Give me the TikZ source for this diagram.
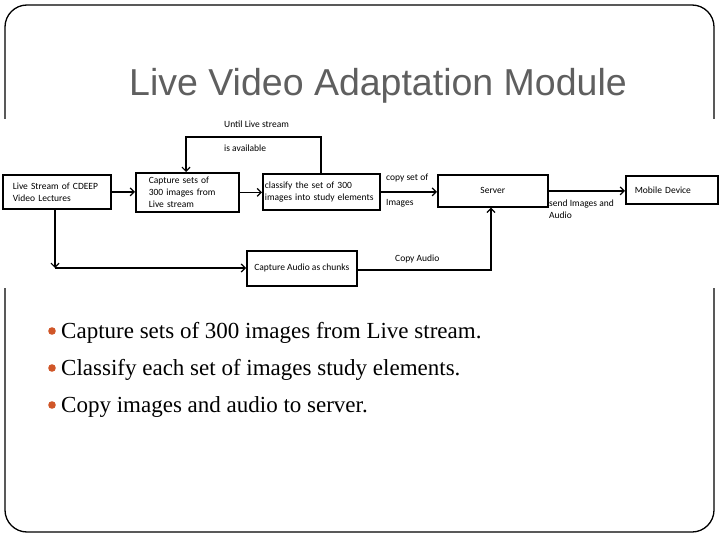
\documentclass[tikz,border=0pt]{standalone}
\usepackage{fontspec}
\setmainfont{Liberation Serif}
\newfontfamily\titlefont{Liberation Sans}
\newfontfamily\diafont{Carlito}
\usetikzlibrary{arrows.meta}
\definecolor{titlegray}{RGB}{95,95,95}
\definecolor{bulletc}{RGB}{208,86,40}
\begin{document}
\begin{tikzpicture}[x=1pt,y=-1pt,
  box/.style={draw, line width=1.7pt, align=left, inner ysep=0pt,
    font=\diafont\fontsize{9.5}{12}\selectfont, anchor=north west},
  conn/.style={line width=1.5pt, -{Straight Barb[length=4pt,width=8pt,line width=1.2pt]}},
  lbl/.style={font=\diafont\fontsize{9.5}{12}\selectfont, align=left, inner sep=0pt, anchor=west},
  bul/.style={font=\fontsize{23}{27}\selectfont, inner sep=0pt, anchor=base west}]
\useasboundingbox (0,0) rectangle (720,540);
% slide frame
\draw[line width=1.3pt, rounded corners=22pt] (5,5) rectangle (714,532);
\fill[white] (0,119) rectangle (720,288);
% title
\node[font=\titlefont\fontsize{37.5}{40}\selectfont, text=titlegray, anchor=base, inner sep=0pt] (title) at (378,96) {Live Video Adaptation Module};
% boxes
\node[box, inner xsep=10pt, text width=88pt, minimum height=34pt] (A) at (2,174) {Live Stream of CDEEP\\Video Lectures};
\node[box, inner xsep=13pt, text width=77pt, minimum height=39pt] (B) at (135,172) {Capture sets of\\300 images from\\Live stream};
\node[box, inner xsep=2pt, text width=113pt, minimum height=36pt] (C) at (262,173) {classify the set of 300\\images into study elements};
\node[box, inner xsep=3pt, text width=104pt, minimum height=32pt, align=center] (D) at (437,174) {Server};
\node[box, inner xsep=9pt, text width=74pt, minimum height=28pt] (E) at (625,175) {Mobile Device};
\node[box, inner xsep=4pt, minimum width=110pt, minimum height=35pt] (F) at (246,250) {Capture Audio as chunks};
% coordinates
\coordinate (fb1) at (321,137);
\coordinate (fb2) at (186,137);
\coordinate (ac) at (55,268);
\coordinate (fd) at (491,270);
% connectors
\draw[conn] (A.east) -- (A.east -| B.west);
\draw[conn] (B.east) -- (B.east -| C.west);
\draw[conn] (C.east) -- (C.east -| D.west);
\draw[conn] (D.east) -- (D.east -| E.west);
\draw[conn] (C.north -| fb1) -- (fb1) -- (fb2) -- (fb2 |- B.north);
\draw[conn] (A.south -| ac) -- (ac);
\draw[conn] (ac) -- (ac -| F.west);
\draw[conn] (F.east |- fd) -- (fd) -- (fd |- D.south);
% labels
\node[lbl] (l1) at (224,124) {Until Live stream};
\node[lbl] (l2) at (224,148) {is available};
\node[lbl] (l3) at (386,178) {copy set of};
\node[lbl] (l4) at (386,203) {Images};
\node[lbl] (l5) at (549,209) {send Images and\\Audio};
\node[lbl] (l6) at (395,259) {Copy Audio};
% bullets
\fill[bulletc] (52,331) circle (3.8pt);
\fill[bulletc] (52,368) circle (3.8pt);
\fill[bulletc] (52,405) circle (3.8pt);
\node[bul] (b1) at (61,338) {Capture sets of 300 images from Live stream.};
\node[bul] (b2) at (61,375) {Classify each set of images study elements.};
\node[bul] (b3) at (61,412) {Copy images and audio to server.};
\end{tikzpicture}
\end{document}
